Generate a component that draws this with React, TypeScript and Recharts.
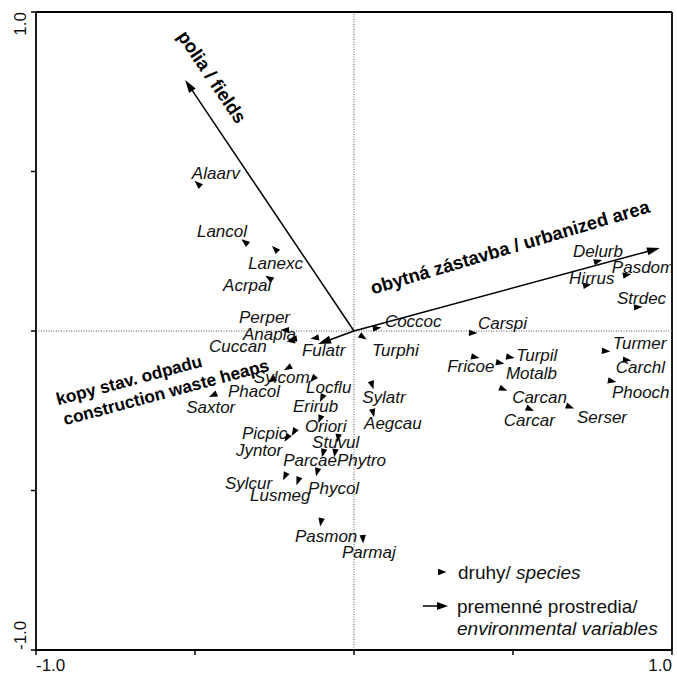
import React from 'react';
import { ScatterChart, Scatter, XAxis, YAxis, ReferenceLine, Legend } from 'recharts';

// ---- data ----
const speciesNames = [
  'Alaarv', 'Lancol', 'Lanexc', 'Acrpal', 'Perper', 'Anapla', 'Cuccan', 'Fulatr',
  'Sylcom', 'Phacol', 'Saxtor', 'Locflu', 'Erirub', 'Oriori', 'Picpic', 'Jyntor',
  'Stuvul', 'Parcae', 'Phytro', 'Phycol', 'Sylcur', 'Lusmeg', 'Pasmon', 'Parmaj',
  'Coccoc', 'Turphi', 'Sylatr', 'Aegcau', 'Carspi', 'Fricoe', 'Turpil', 'Motalb',
  'Carcan', 'Carcar', 'Serser', 'Turmer', 'Carchl', 'Phooch', 'Delurb', 'Pasdom',
  'Hirrus', 'Strdec',
];
const speciesX = [
  -0.491, -0.343, -0.248, -0.267, -0.217, -0.192, -0.198, -0.123,
  -0.208, -0.258, -0.443, -0.129, -0.101, -0.107, -0.189, -0.211,
  -0.050, -0.097, -0.060, -0.116, -0.217, -0.176, -0.104, 0.028,
  0.072, 0.028, 0.057, 0.060, 0.374, 0.381, 0.491, 0.459,
  0.469, 0.553, 0.679, 0.792, 0.858, 0.811, 0.767, 0.858,
  0.733, 0.893,
];
const speciesY = [
  0.461, 0.279, 0.257, 0.166, 0.003, -0.025, -0.031, -0.022,
  -0.116, -0.154, -0.201, -0.150, -0.210, -0.276, -0.317, -0.335,
  -0.335, -0.382, -0.382, -0.442, -0.455, -0.470, -0.599, -0.652,
  0.009, -0.019, -0.169, -0.257, -0.006, -0.082, -0.082, -0.100,
  -0.182, -0.245, -0.238, -0.063, -0.091, -0.157, 0.219, 0.176,
  0.144, 0.075,
];

const envNames = ['polia / fields', 'obytná zástavba / urbanized area', 'kopy stav. odpadu / construction waste heaps'];
const envX = [-0.531, 0.962, -0.113];
const envY = [0.787, 0.260, -0.041];

const axisTicks = [-1, -0.5, 0, 0.5, 1];
const axisTickLabels = ['-1.0', '', '', '', '1.0'];

const legendSpecies = ['druhy/ ', 'species'];
const legendEnv = ['premenné prostredia/', 'environmental variables'];

// ---- layout (label offsets in px from each marker) ----
const labelOffsets: Record<string, [number, number]> = {
  Alaarv: [-6, -10], Lancol: [-48, -10], Lanexc: [-27, 14], Acrpal: [-46, 7],
  Perper: [-46, -13], Anapla: [-50, -4], Cuccan: [-82, 6], Fulatr: [-13, 12],
  Sylcom: [-34, 9], Phacol: [-44, 11], Saxtor: [-27, 12], Locflu: [-7, 9],
  Erirub: [-29, 9], Oriori: [-15, 7], Picpic: [-52, 1], Jyntor: [-51, 13],
  Stuvul: [-26, 5], Parcae: [-40, 8], Phytro: [2, 8], Phycol: [-9, 17],
  Sylcur: [-60, 7], Lusmeg: [-48, 15], Pasmon: [-26, 14], Parmaj: [-21, 14],
  Coccoc: [8, -7], Turphi: [9, 13], Sylatr: [-10, 13], Aegcau: [-9, 11],
  Carspi: [5, -9], Fricoe: [-28, 9], Turpil: [6, -2], Motalb: [6, 11],
  Carcan: [9, 8], Carcar: [-26, 11], Serser: [7, 11], Turmer: [7, -8],
  Carchl: [-11, 7], Phooch: [0, 11], Delurb: [-25, -10], Pasdom: [-15, -7],
  Hirrus: [-18, -7], Strdec: [-21, -9],
};

const FONT = '"Liberation Sans", Arial, Helvetica, sans-serif';

const speciesData = speciesNames.map((n, i) => ({ name: n, x: speciesX[i], y: speciesY[i] }));

const SpeciesShape = (props: any) => {
  const { cx, cy, payload } = props;
  if (cx == null || cy == null) return null;
  const ang = (Math.atan2(-payload.y, payload.x) * 180) / Math.PI;
  const off = labelOffsets[payload.name] || [5, -8];
  return (
    <g>
      <path d="M4.5,0 L-4,-3.2 L-4,3.2 Z" transform={`translate(${cx},${cy}) rotate(${ang})`} fill="#000" />
      <text
        x={cx + off[0]}
        y={cy + off[1]}
        dominantBaseline="central"
        fontStyle="italic"
        fontSize={17}
        fontFamily={FONT}
        fill="#111"
      >
        {payload.name}
      </text>
    </g>
  );
};

const envLabelLayout = [
  [{ dx: 27, dy: -3, rot: 56, size: 18.5, text: 0 }],
  [{ dx: -150, dy: -1, rot: -16.5, size: 18.5, text: 0 }],
  [
    { dx: -189, dy: 36, rot: -15, size: 17.3, text: 0 },
    { dx: -152, dy: 48, rot: -15, size: 17.3, text: 1 },
  ],
];

const envLabelTexts = (i: number): string[] => {
  if (i === 2) return envNames[2].split(' / ');
  return [envNames[i]];
};

const makeArrow = (i: number) => (p: any) => {
  const { x1, y1, x2, y2 } = p;
  if (x1 == null) return null;
  const a = Math.atan2(y2 - y1, x2 - x1);
  const deg = (a * 180) / Math.PI;
  const bx = x2 - Math.cos(a) * 9;
  const by = y2 - Math.sin(a) * 9;
  const texts = envLabelTexts(i);
  return (
    <g>
      <line x1={x1} y1={y1} x2={bx} y2={by} stroke="#000" strokeWidth={1.5} />
      <path d="M0,0 L-13,-4 L-13,4 Z" transform={`translate(${x2},${y2}) rotate(${deg})`} fill="#000" />
      {envLabelLayout[i].map((l, k) => {
        const cx = x2 + l.dx;
        const cy = y2 + l.dy;
        return (
          <text
            key={k}
            x={cx}
            y={cy}
            textAnchor="middle"
            dominantBaseline="central"
            fontWeight="bold"
            fontSize={l.size}
            fontFamily={FONT}
            fill="#000"
            transform={`rotate(${l.rot},${cx},${cy})`}
          >
            {texts[l.text]}
          </text>
        );
      })}
    </g>
  );
};

const XTick = (props: any) => {
  const { x, y, payload } = props;
  const label = axisTickLabels[axisTicks.indexOf(payload.value)] || '';
  if (!label) return null;
  const anchor = payload.value < 0 ? 'start' : 'end';
  return (
    <text x={x} y={y + 8} textAnchor={anchor} dominantBaseline="central" fontSize={17} fontFamily={FONT} fill="#111">
      {label}
    </text>
  );
};

const YTick = (props: any) => {
  const { x, y, payload } = props;
  const label = axisTickLabels[axisTicks.indexOf(payload.value)] || '';
  if (!label) return null;
  const tx = x - 9;
  const anchor = payload.value > 0 ? 'end' : 'start';
  return (
    <text
      x={tx}
      y={y}
      textAnchor={anchor}
      dominantBaseline="central"
      fontSize={17}
      fontFamily={FONT}
      fill="#111"
      transform={`rotate(-90,${tx},${y})`}
    >
      {label}
    </text>
  );
};

const LegendContent = () => (
  <svg width={250} height={95} style={{ display: 'block' }}>
    <path d="M4.5,0 L-4,-3.2 L-4,3.2 Z" transform="translate(22,22)" fill="#000" />
    <text x={38} y={22} dominantBaseline="central" fontSize={19} fontFamily={FONT} fill="#111">
      {legendSpecies[0]}
      <tspan fontStyle="italic">{legendSpecies[1]}</tspan>
    </text>
    <line x1={3} y1={56} x2={18} y2={56} stroke="#000" strokeWidth={1.5} />
    <path d="M0,0 L-11,-4 L-11,4 Z" transform="translate(28,56)" fill="#000" />
    <text x={37} y={56} dominantBaseline="central" fontSize={19} fontFamily={FONT} fill="#111">
      {legendEnv[0]}
    </text>
    <text x={37} y={78} dominantBaseline="central" fontSize={19} fontStyle="italic" fontFamily={FONT} fill="#111">
      {legendEnv[1]}
    </text>
  </svg>
);

export default function App() {
  return (
    <div style={{ position: 'absolute', left: 0, top: 0, background: '#fff' }}>
      <ScatterChart width={677} height={674} margin={{ top: 12, right: 5, bottom: 0, left: 0 }}>
        <XAxis
          type="number"
          dataKey="x"
          domain={[-1, 1]}
          ticks={axisTicks}
          height={24}
          tickSize={5}
          tickLine={{ stroke: '#000', strokeWidth: 1.5 }}
          axisLine={{ stroke: '#000', strokeWidth: 1.8 }}
          tick={<XTick />}
          allowDataOverflow
        />
        <YAxis
          type="number"
          dataKey="y"
          domain={[-1, 1]}
          ticks={axisTicks}
          width={36}
          tickSize={5}
          tickLine={{ stroke: '#000', strokeWidth: 1.5 }}
          axisLine={{ stroke: '#000', strokeWidth: 1.8 }}
          tick={<YTick />}
          allowDataOverflow
        />
        <ReferenceLine x={1} stroke="#000" strokeWidth={1.8} />
        <ReferenceLine y={1} stroke="#000" strokeWidth={1.8} />
        <ReferenceLine x={0} stroke="#555" strokeWidth={1} strokeDasharray="1 1.5" />
        <ReferenceLine y={0} stroke="#555" strokeWidth={1} strokeDasharray="1 1.5" />
        {envNames.map((n, i) => (
          <ReferenceLine
            key={n}
            segment={[{ x: 0, y: 0 }, { x: envX[i], y: envY[i] }]}
            shape={makeArrow(i)}
            ifOverflow="visible"
          />
        ))}
        <Scatter data={speciesData} shape={<SpeciesShape />} isAnimationActive={false} />
        <Legend
          layout="horizontal"
          verticalAlign="middle"
          align="center"
          content={<LegendContent />}
          wrapperStyle={{ position: 'absolute', left: 420, top: 550, width: 250, height: 95 }}
        />
      </ScatterChart>
    </div>
  );
}
